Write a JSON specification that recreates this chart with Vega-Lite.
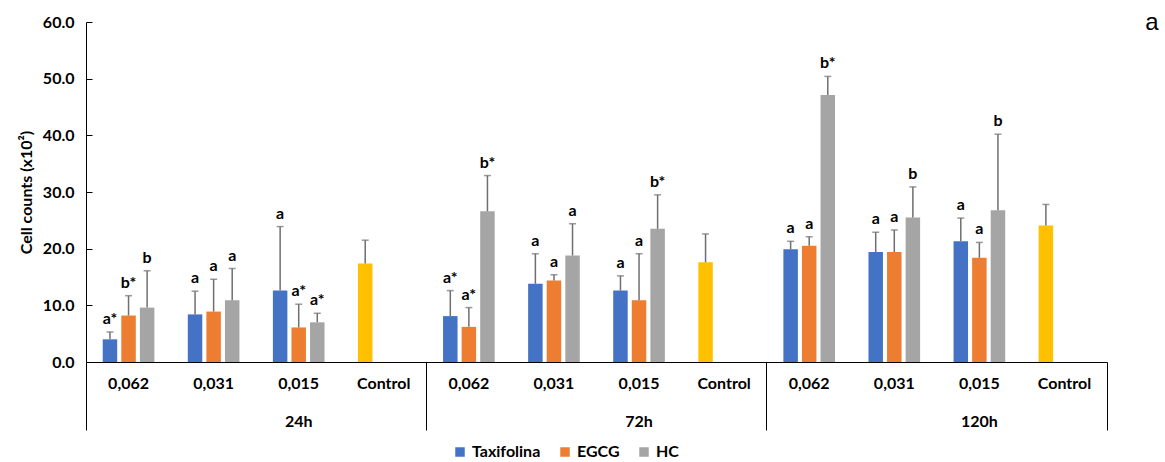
{
  "$schema": "https://vega.github.io/schema/vega-lite/v6.json",
  "width": 1021,
  "height": 340,
  "autosize": {"type": "none"},
  "padding": {"left": 86, "top": 22, "right": 58, "bottom": 100},
  "background": "white",
  "title": {"text": "a", "anchor": "end", "orient": "top", "dx": 51, "dy": 44, "baseline": "alphabetic", "fontSize": 24, "fontWeight": "normal", "font": "Liberation Sans", "color": "#000000"},
  "config": {"view": {"stroke": null}, "font": "Lato", "axis": {"grid": false}},
  "data": {"values": [
    {"cat": "24h|0,062", "series": "Taxifolina", "slot": 1, "value": 4.0, "upper": 5.3, "label": "a*"},
    {"cat": "24h|0,062", "series": "EGCG", "slot": 2, "value": 8.2, "upper": 11.7, "label": "b*"},
    {"cat": "24h|0,062", "series": "HC", "slot": 3, "value": 9.6, "upper": 16.1, "label": "b"},
    {"cat": "24h|0,031", "series": "Taxifolina", "slot": 1, "value": 8.4, "upper": 12.5, "label": "a"},
    {"cat": "24h|0,031", "series": "EGCG", "slot": 2, "value": 8.9, "upper": 14.6, "label": "a"},
    {"cat": "24h|0,031", "series": "HC", "slot": 3, "value": 10.9, "upper": 16.5, "label": "a"},
    {"cat": "24h|0,015", "series": "Taxifolina", "slot": 1, "value": 12.6, "upper": 23.9, "label": "a"},
    {"cat": "24h|0,015", "series": "EGCG", "slot": 2, "value": 6.1, "upper": 10.2, "label": "a*"},
    {"cat": "24h|0,015", "series": "HC", "slot": 3, "value": 7.0, "upper": 8.6, "label": "a*"},
    {"cat": "24h|Control", "series": "Control", "slot": 1, "value": 17.4, "upper": 21.5, "label": ""},
    {"cat": "72h|0,062", "series": "Taxifolina", "slot": 1, "value": 8.1, "upper": 12.6, "label": "a*"},
    {"cat": "72h|0,062", "series": "EGCG", "slot": 2, "value": 6.2, "upper": 9.6, "label": "a*"},
    {"cat": "72h|0,062", "series": "HC", "slot": 3, "value": 26.6, "upper": 32.9, "label": "b*"},
    {"cat": "72h|0,031", "series": "Taxifolina", "slot": 1, "value": 13.8, "upper": 19.1, "label": "a"},
    {"cat": "72h|0,031", "series": "EGCG", "slot": 2, "value": 14.4, "upper": 15.4, "label": "a"},
    {"cat": "72h|0,031", "series": "HC", "slot": 3, "value": 18.8, "upper": 24.4, "label": "a"},
    {"cat": "72h|0,015", "series": "Taxifolina", "slot": 1, "value": 12.6, "upper": 15.2, "label": "a"},
    {"cat": "72h|0,015", "series": "EGCG", "slot": 2, "value": 10.9, "upper": 19.1, "label": "a"},
    {"cat": "72h|0,015", "series": "HC", "slot": 3, "value": 23.5, "upper": 29.5, "label": "b*"},
    {"cat": "72h|Control", "series": "Control", "slot": 1, "value": 17.6, "upper": 22.6, "label": ""},
    {"cat": "120h|0,062", "series": "Taxifolina", "slot": 1, "value": 19.9, "upper": 21.3, "label": "a"},
    {"cat": "120h|0,062", "series": "EGCG", "slot": 2, "value": 20.5, "upper": 22.1, "label": "a"},
    {"cat": "120h|0,062", "series": "HC", "slot": 3, "value": 47.1, "upper": 50.4, "label": "b*"},
    {"cat": "120h|0,031", "series": "Taxifolina", "slot": 1, "value": 19.4, "upper": 22.9, "label": "a"},
    {"cat": "120h|0,031", "series": "EGCG", "slot": 2, "value": 19.4, "upper": 23.3, "label": "a"},
    {"cat": "120h|0,031", "series": "HC", "slot": 3, "value": 25.5, "upper": 30.9, "label": "b"},
    {"cat": "120h|0,015", "series": "Taxifolina", "slot": 1, "value": 21.3, "upper": 25.4, "label": "a"},
    {"cat": "120h|0,015", "series": "EGCG", "slot": 2, "value": 18.4, "upper": 21.1, "label": "a"},
    {"cat": "120h|0,015", "series": "HC", "slot": 3, "value": 26.8, "upper": 40.2, "label": "b"},
    {"cat": "120h|Control", "series": "Control", "slot": 1, "value": 24.1, "upper": 27.8, "label": ""}
  ]},
  "resolve": {"axis": {"x": "independent"}},
  "layer": [
    {
      "mark": {"type": "bar"},
      "encoding": {
        "x": {"field": "cat", "type": "nominal",
          "scale": {"domain": ["24h|0,062","24h|0,031","24h|0,015","24h|Control","72h|0,062","72h|0,031","72h|0,015","72h|Control","120h|0,062","120h|0,031","120h|0,015","120h|Control"], "paddingInner": 0, "paddingOuter": 0},
          "axis": {"orient": "bottom", "title": null, "labelExpr": "split(datum.value,'|')[1]", "ticks": false, "domain": true, "domainColor": "#000000", "domainWidth": 1, "labelAngle": 0, "labelFontWeight": "bold", "labelFontSize": 16, "labelColor": "#000000", "labelPadding": 13}},
        "xOffset": {"field": "slot", "type": "nominal", "scale": {"paddingInner": 0.22, "paddingOuter": 0.9}},
        "y": {"field": "value", "type": "quantitative", "scale": {"domain": [0, 60]},
          "axis": {"title": "Cell counts (x10²)", "values": [0,10,20,30,40,50,60], "format": ".1f", "tickSize": -6, "tickColor": "#000000", "domainColor": "#000000", "labelFontWeight": "bold", "labelFontSize": 16, "labelColor": "#000000", "labelPadding": 18, "titleFontSize": 16, "titleFontWeight": "bold", "titleColor": "#000000", "titlePadding": 8, "grid": false}},
        "color": {"field": "series", "type": "nominal",
          "scale": {"domain": ["Taxifolina","EGCG","HC","Control"], "range": ["#4472C4","#ED7D31","#A5A5A5","#FFC000"]},
          "legend": {"values": ["Taxifolina","EGCG","HC"], "title": null, "orient": "none", "legendX": 366, "legendY": 422, "padding": 0, "direction": "horizontal", "symbolType": "square", "symbolSize": 90, "symbolStrokeWidth": 0, "labelFontWeight": "bold", "labelFontSize": 16, "labelColor": "#000000", "columnPadding": 16, "labelOffset": 4}}
      }
    },
    {
      "mark": {"type": "rule", "color": "#6f6f6f", "strokeWidth": 1.5},
      "encoding": {
        "x": {"field": "cat", "type": "nominal",
          "axis": {"orient": "bottom", "title": null, "values": ["24h|0,062","72h|0,062","120h|0,062"], "bandPosition": 0, "tickSize": 68, "tickColor": "#000000", "tickWidth": 1, "labels": false, "domain": false}},
        "xOffset": {"field": "slot", "type": "nominal"},
        "y": {"field": "value", "type": "quantitative"},
        "y2": {"field": "upper"}
      }
    },
    {
      "mark": {"type": "tick", "color": "#6f6f6f", "thickness": 1.5, "size": 7, "orient": "horizontal"},
      "encoding": {
        "x": {"field": "cat", "type": "nominal",
          "axis": {"orient": "bottom", "title": null, "values": ["120h|Control"], "bandPosition": 1, "tickSize": 68, "tickColor": "#000000", "tickWidth": 1, "labels": false, "domain": false}},
        "xOffset": {"field": "slot", "type": "nominal"},
        "y": {"field": "upper", "type": "quantitative"}
      }
    },
    {
      "mark": {"type": "text", "dy": -8, "baseline": "alphabetic", "fontWeight": "bold", "fontSize": 16, "color": "#000000"},
      "encoding": {
        "x": {"field": "cat", "type": "nominal",
          "axis": {"orient": "bottom", "title": null, "values": ["24h|0,015","72h|0,015","120h|0,015"], "bandPosition": 0, "ticks": false, "domain": false, "labelExpr": "split(datum.value,'|')[0]", "labelAngle": 0, "labelFontWeight": "bold", "labelFontSize": 16, "labelColor": "#000000", "labelPadding": 51}},
        "xOffset": {"field": "slot", "type": "nominal"},
        "y": {"field": "upper", "type": "quantitative"},
        "text": {"field": "label"}
      }
    }
  ]
}
